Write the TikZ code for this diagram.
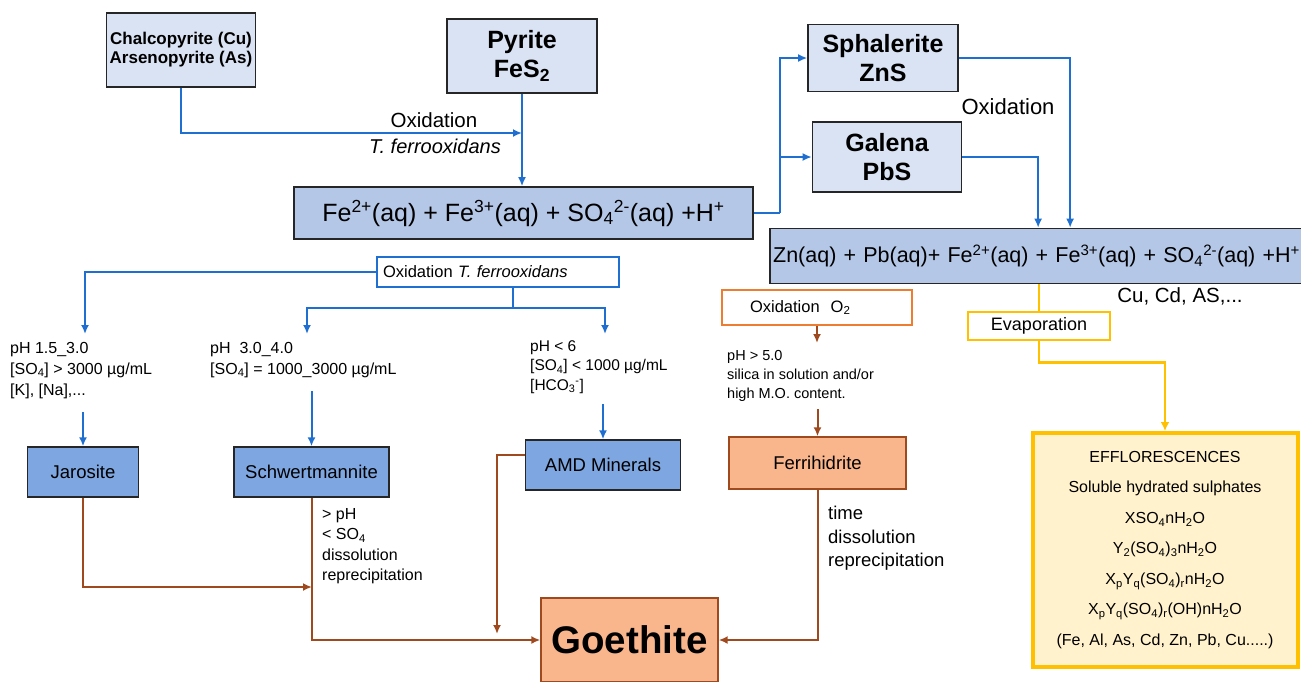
\documentclass[tikz,border=0pt]{standalone}
\usepackage{fontspec}
\setmainfont{Liberation Sans}
\usetikzlibrary{arrows.meta,positioning}
\definecolor{paleblue}{HTML}{DAE3F3}
\definecolor{solblue}{HTML}{B4C7E7}
\definecolor{phblue}{HTML}{7EA6E0}
\definecolor{arrblue}{HTML}{1E6FD0}
\definecolor{rust}{HTML}{9E4A1E}
\definecolor{ochre}{HTML}{ED7D31}
\definecolor{salmon}{HTML}{F9B58C}
\definecolor{gold}{HTML}{FFC000}
\definecolor{cream}{HTML}{FFF2CC}
\newcommand{\fs}[2]{\fontsize{#1}{#2}\selectfont}

\begin{document}
\begin{tikzpicture}[x=1pt,y=-1pt,>=Latex,font=\fs{16}{20},
  mineral/.style={draw=black!85,line width=1.6pt,fill=paleblue,align=center,font=\bfseries\fs{25}{29}},
  solut/.style={draw=black!85,line width=1.6pt,fill=solblue,font=\fs{25}{28}},
  phase/.style={draw=black!85,line width=1.4pt,fill=phblue,font=\fs{18.5}{22}},
  fephase/.style={draw=rust,line width=1.4pt,fill=salmon,font=\fs{18.5}{22}},
  cond/.style={anchor=north west,align=left,inner sep=0pt,font=\fs{16}{21}},
  bline/.style={draw=arrblue,line width=2pt},
  barr/.style={bline,-{Latex[length=9pt,width=8pt]}},
  rarr/.style={draw=rust,line width=2pt,-{Latex[length=9pt,width=8pt]}},
  yline/.style={draw=gold,line width=2.5pt},
  yarr/.style={yline,-{Latex[length=9pt,width=9pt]}}]
\clip (0,0) rectangle (1301,681);

% primary sulphides
\node[mineral,font=\bfseries\fs{17}{19},minimum width=149,minimum height=74] (chal) at (181,50) {Chalcopyrite (Cu)\\Arsenopyrite (As)};
\node[mineral,minimum width=150,minimum height=74] (pyr) at (522,56) {Pyrite\\FeS\textsubscript{2}};
\node[solut,minimum width=459,minimum height=52] (fe) at (523.5,213) {Fe\textsuperscript{2+}(aq) + Fe\textsuperscript{3+}(aq) + SO\textsubscript{4}\textsuperscript{2-}(aq) +H\textsuperscript{+}};
\node[font=\fs{20.5}{24}] (oxa) at (434,120) {Oxidation};
\node[font=\itshape\fs{20}{24}] (tfa) at (435,146) {T. ferrooxidans};
\coordinate (jn) at (522,133);
\draw[barr] (chal.south) |- (jn);
\draw[barr] (pyr.south) -- (pyr.south |- fe.north);

\node[mineral,minimum width=150,minimum height=67] (sph) at (883,58) {Sphalerite\\ZnS};
\node[mineral,minimum width=149,minimum height=70] (gal) at (887,157) {Galena\\PbS};
\node[font=\fs{22}{26}] (oxb) at (1008,107) {Oxidation};
\coordinate (split) at (780,213);
\draw[bline] (fe.east) -- (split);
\draw[barr] (split) |- (sph.west);
\draw[barr] (split) |- (gal.west);
\node[solut,font=\fs{21.5}{25},anchor=west,minimum height=55,text width=548,align=left] (zn) at (769,256) {Zn(aq) + Pb(aq)+ Fe\textsuperscript{2+}(aq) + Fe\textsuperscript{3+}(aq) + SO\textsubscript{4}\textsuperscript{2-}(aq) +H\textsuperscript{+}};
\draw[barr] (sph.east) -| ([xshift=23]zn.north);
\draw[barr] (gal.east) -| ([xshift=-9]zn.north);
\node[font=\fs{20.5}{24}] (trace) at (1180,296) {Cu, Cd, AS,...};

% T. ferrooxidans branch
\node[draw=arrblue,line width=2pt,fill=white,text width=230,align=left,inner xsep=6pt,minimum height=30,font=\fs{16.5}{20}] (ox1) at (498,272) {Oxidation \textit{T. ferrooxidans}};
\coordinate (ta) at (85,334);
\coordinate (fork) at (513,308);
\coordinate (tb) at (307,334);
\coordinate (tc) at (605,334);
\draw[barr] (ox1.west) -| (ta);
\draw[bline] (ox1.south -| fork) -- (fork);
\draw[barr] (fork) -| (tb);
\draw[barr] (fork) -| (tc);
\node[cond] (condA) at (10,342) {pH 1.5\_3.0\\{[}SO\textsubscript{4}{]} > 3000 µg/mL\\{[}K{]}, {[}Na{]},...};
\node[cond] (condB) at (210,342) {pH\ \ 3.0\_4.0\\{[}SO\textsubscript{4}{]} = 1000\_3000 µg/mL};
\node[cond,font=\fs{15.5}{19.5}] (condC) at (530,340) {pH < 6\\{[}SO\textsubscript{4}{]} < 1000 µg/mL\\{[}HCO\textsubscript{3}\textsuperscript{-}{]}};
\node[phase,minimum width=111,minimum height=50] (jar) at (83,472) {Jarosite};
\node[phase,minimum width=155,minimum height=50] (schw) at (311.5,472) {Schwertmannite};
\node[phase,minimum width=155,minimum height=50] (amd) at (603,465) {AMD Minerals};
\draw[barr] ([yshift=34]jar.north) -- (jar.north);
\draw[barr] ([yshift=55]schw.north) -- (schw.north);
\draw[barr] ([yshift=35]amd.north) -- (amd.north);

% goethite
\node[fephase,font=\bfseries\fs{38.5}{42},minimum width=177,minimum height=84] (goe) at (629.5,640) {Goethite};
\coordinate (jm) at (312,587);
\coordinate (am) at (497,634);
\draw[rarr] (jar.south) |- (jm);
\draw[rarr] (schw.south) |- (goe.west);
\draw[rarr] ([yshift=10]amd.west) -| (am);
\node[cond,font=\fs{16}{20.5}] (condS) at (322,508) {> pH\\< SO\textsubscript{4}\\dissolution\\reprecipitation};

% O2 branch
\node[draw=ochre,line width=2pt,fill=white,text width=134,align=left,inner xsep=28pt,minimum height=35,font=\fs{16.5}{20}] (ox2) at (817,307.5) {Oxidation\ \ O\textsubscript{2}};
\coordinate (fo) at (817,343);
\draw[rarr] (ox2.south) -- (fo);
\node[cond,font=\fs{14.5}{19}] (condD) at (727,350) {pH > 5.0\\silica in solution and/or\\high M.O. content.};
\node[fephase,minimum width=177,minimum height=52] (fer) at (817.5,463) {Ferrihidrite};
\draw[rarr] ([yshift=27]fer.north) -- (fer.north);
\draw[rarr] (fer.south) |- (goe.east);
\node[cond,font=\fs{18.5}{23.5}] (condF) at (828,506) {time\\dissolution\\reprecipitation};

% evaporation
\node[draw=gold,line width=2.5pt,fill=white,font=\fs{18}{21},minimum width=142,minimum height=28] (evap) at (1039,326) {Evaporation};
\draw[yline] (zn.south -| evap.north) -- (evap.north);
\node[draw=gold,line width=4pt,fill=cream,align=center,font=\fs{16}{30.5},minimum width=265,minimum height=234] (eff) at (1165,550) {EFFLORESCENCES\\Soluble hydrated sulphates\\XSO\textsubscript{4}nH\textsubscript{2}O\\Y\textsubscript{2}(SO\textsubscript{4})\textsubscript{3}nH\textsubscript{2}O\\X\textsubscript{p}Y\textsubscript{q}(SO\textsubscript{4})\textsubscript{r}nH\textsubscript{2}O\\X\textsubscript{p}Y\textsubscript{q}(SO\textsubscript{4})\textsubscript{r}(OH)nH\textsubscript{2}O\\(Fe, Al, As, Cd, Zn, Pb, Cu.....)};
\draw[yarr] (evap.south) -- ++(0,21) -| (eff.north);
\end{tikzpicture}
\end{document}
